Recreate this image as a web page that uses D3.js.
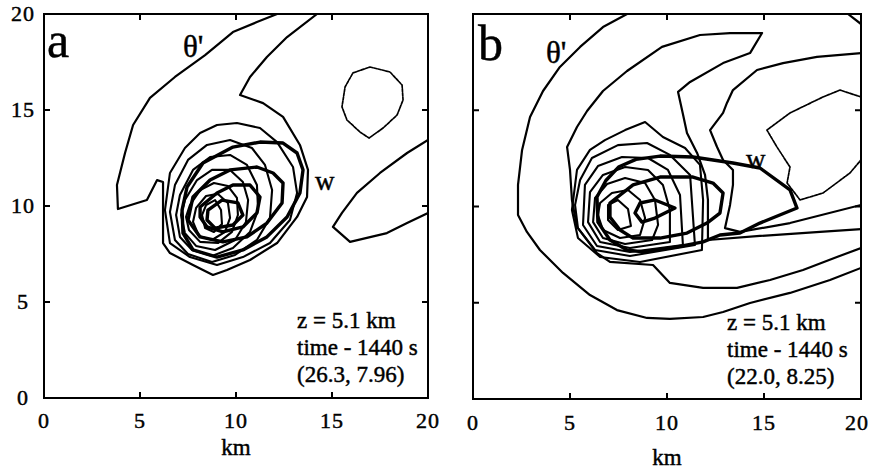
<!DOCTYPE html>
<html lang="en-US">
<head>
  <script src="https://d3js.org/d3.v7.min.js"></script>
  <style>
    body { margin: 0; background: #fff; }
    text { font-family: "Liberation Serif", "Times New Roman", serif; fill: #000; stroke: #000; stroke-width: 0.45px; }
  </style>
</head>
<body>

<svg width="870" height="469"></svg>

<script>
// ---- data (km) ----
var xTicks = [0, 5, 10, 15, 20];
var yTicks = [0, 5, 10, 15, 20];
var innerTicks = [5, 10, 15];

// panel a : theta' contours reaching the frame
var thetaOpenA = [
  [[12.14,20],[11.09,19.58],[9.84,19.06],[8.39,17.86],[6.82,16.72],[5.52,15.63],[4.64,14.22],[4.22,12.76],[3.80,11.09],[3.85,9.84],[5.36,10.31],[5.89,11.35],[6.20,11.25],[6.20,8.07],[6.56,7.55],[7.76,6.93],[8.80,6.41],[9.53,6.67],[10.73,7.19],[12.14,8.07],[13.18,9.43],[13.70,10.47],[13.75,11.88],[13.33,13.18],[12.45,14.64],[11.41,15.36],[10.21,15.78],[10.73,16.72],[11.61,17.76],[12.66,18.80],[14.22,20]],
  [[20,13.44],[18.91,12.76],[17.5,11.72],[16.3,10.68],[15.52,9.64],[15.05,8.91],[15.94,8.13],[17.86,8.59],[18.91,9.11],[20,9.64]]
];
// panel a : closed theta' rings
var thetaRingsA = [
  [[6.56,11.72],[7.34,13.02],[8.13,13.80],[9.01,14.22],[10.05,14.32],[11.25,14.06],[12.14,13.33],[12.97,12.03],[13.18,10.68],[12.81,9.27],[11.77,8.07],[10.36,7.34],[9.01,6.93],[7.60,7.34],[6.56,8.07],[6.30,9.79]],
  [[6.82,11.09],[7.50,12.40],[8.49,13.18],[9.69,13.44],[10.83,13.02],[11.51,12.14],[11.88,10.83],[11.77,9.38],[11.09,8.23],[9.95,7.45],[8.75,7.08],[7.50,7.50],[6.82,8.23],[6.56,9.69]],
  [[7.08,10.57],[7.76,11.88],[8.65,12.55],[9.69,12.66],[10.57,12.14],[11.09,11.09],[11.15,9.79],[10.73,8.65],[9.84,7.81],[8.75,7.40],[7.71,7.71],[7.08,8.39],[6.88,9.53]],
  [[7.34,10.31],[7.97,11.35],[8.75,11.88],[9.69,11.88],[10.36,11.25],[10.63,10.31],[10.52,9.17],[9.95,8.23],[8.91,7.71],[7.92,7.92],[7.34,8.59],[7.14,9.53]],
  [[7.60,10.05],[8.13,10.83],[8.85,11.20],[9.58,11.04],[10.05,10.42],[10.10,9.53],[9.79,8.65],[9.06,8.07],[8.13,8.13],[7.55,8.75],[7.40,9.43]],
  [[7.92,9.90],[8.44,10.52],[9.06,10.63],[9.58,10.16],[9.69,9.38],[9.43,8.65],[8.75,8.23],[8.07,8.44],[7.76,9.17]],
  [[8.44,10.05],[8.91,10.31],[9.22,9.79],[9.27,9.06],[8.85,8.65],[8.39,8.85],[8.23,9.53]]
];
// panel a : w contours (bold)
var wRingsA = [
  [[7.45,10.99],[8.28,12.24],[9.84,13.07],[11.25,13.33],[12.45,13.28],[13.18,12.76],[13.49,11.88],[13.33,10.68],[12.66,9.43],[11.61,8.39],[10.36,7.71],[9.01,7.34],[7.76,7.71],[7.24,8.59],[7.19,9.79]],
  [[7.76,10.47],[8.65,11.35],[9.69,11.88],[11.09,12.03],[11.93,11.72],[12.45,11.20],[12.40,10.16],[11.61,9.11],[10.57,8.39],[9.32,8.13],[8.13,8.39],[7.50,9.27]],
  [[8.13,9.95],[9.01,10.68],[9.84,11.09],[10.73,11.09],[11.25,10.47],[11.09,9.64],[10.36,8.91],[9.32,8.65],[8.49,8.91],[8.13,9.43]],
  [[8.54,9.79],[9.27,10.31],[10.10,10.16],[10.36,9.53],[9.84,9.01],[8.91,8.85],[8.49,9.27]]
];
// panel a : dashed closed contour
var dashA = [
  [[16.98,17.24],[18.02,16.98],[18.65,16.30],[18.70,15.52],[18.39,14.74],[17.66,14.06],[16.93,13.54],[16.46,13.85],[15.78,14.48],[15.52,15.16],[15.68,16.20],[16.09,16.93]]
];

// panel b : theta' contours reaching the frame
var thetaOpenB = [
  [[7.94,20],[6.70,19.32],[5.52,18.29],[4.48,17.25],[3.61,16.0],[2.94,14.65],[2.53,12.94],[2.32,11.12],[2.32,9.56],[2.78,8.68],[3.45,7.74],[4.64,6.55],[6.03,5.40],[7.42,4.62],[8.97,4.21],[10.15,4.16],[11.86,4.26],[12.89,4.52],[14.28,4.99],[16.34,5.51],[18.40,6.18],[20,6.81]],
  [[20,8.83],[17.89,8.68],[14.79,8.47],[12.11,8.26],[12.11,10.34],[11.96,11.64],[11.55,12.78],[11.03,13.82],[10.82,14.81],[10.57,15.95],[11.19,16.47],[12.89,17.45],[14.28,17.97],[14.90,19.01],[13.25,19.01],[11.70,18.91],[9.74,18.29],[7.94,17.04],[6.70,16.0],[5.88,14.96],[5.36,14.13],[4.85,13.09],[5.0,11.90],[5.10,10.34],[5.36,8.94],[6.39,7.58],[7.06,7.12],[9.28,6.96],[10.15,6.03],[11.86,5.77],[13.61,5.77],[15.31,6.18],[17.01,6.70],[18.76,7.38],[20,7.84]],
  [[20,17.97],[17.73,17.77],[15.98,17.45],[14.64,17.09],[13.40,16.05],[13.09,15.38],[12.89,14.86],[12.22,13.97],[12.58,13.09],[12.89,12.42],[13.40,11.90],[13.40,11.12],[13.25,10.08],[12.99,8.88],[13.76,8.68],[16.34,9.14],[20,10.08]],
  [[19.33,20],[20,19.48]]
];
// panel b : closed theta' rings
var thetaRingsB = [
  [[6.96,10.08],[7.47,10.34],[7.99,9.87],[8.14,8.99],[7.47,8.78],[6.96,9.30]],
  [[6.55,10.18],[7.16,10.70],[7.99,10.86],[8.61,10.34],[8.87,9.40],[8.61,8.52],[7.58,8.36],[6.70,8.78],[6.44,9.56]],
  [[6.29,10.44],[6.91,11.17],[7.84,11.48],[8.87,11.22],[9.38,10.34],[9.54,9.04],[9.23,8.26],[7.84,8.05],[6.70,8.36],[6.19,9.19]],
  [[6.03,10.75],[6.70,11.64],[7.84,12.05],[9.02,11.90],[9.79,11.12],[10.15,9.82],[10.15,8.16],[8.09,7.84],[6.55,8.16],[5.93,9.19]],
  [[5.77,11.12],[6.44,12.10],[7.68,12.57],[9.02,12.52],[10.05,11.90],[10.67,10.60],[10.82,8.0],[8.09,7.64],[6.39,7.95],[5.67,9.04]],
  [[5.52,11.38],[6.13,12.52],[7.47,13.19],[8.97,13.30],[10.15,12.68],[11.19,11.64],[11.44,8.0],[8.09,7.43],[6.29,7.74],[5.41,8.88],[5.26,10.08]],
  [[5.36,11.90],[6.03,12.94],[6.80,13.45],[7.84,13.97],[8.87,14.39],[9.79,13.61],[10.93,13.04],[11.70,12.16],[11.86,10.34],[11.80,7.74],[8.61,7.12],[6.55,7.38],[5.41,8.36],[5.10,9.82]]
];
// panel b : w contours (bold)
var wRingsB = [
  [[6.39,10.49],[6.85,11.35],[7.50,12.05],[8.40,12.45],[9.64,12.62],[11.34,12.57],[13.40,12.26],[14.79,12.0],[16.34,10.86],[16.70,9.92],[14.79,9.14],[13.76,8.62],[12.73,8.52],[11.86,8.16],[10.52,7.90],[8.76,7.64],[7.94,7.74],[7.06,8.26],[6.44,9.19]],
  [[7.06,10.18],[8.25,11.12],[9.64,11.53],[11.34,11.53],[12.37,11.22],[12.89,10.70],[12.73,9.66],[12.06,9.14],[11.03,8.62],[9.64,8.36],[8.25,8.36],[7.58,8.78],[7.06,9.45]],
  [[8.61,10.18],[9.38,10.34],[10.41,9.92],[9.38,9.40],[8.71,9.19],[8.35,9.66]]
];
// panel b : dashed contour reaching the frame
var dashB = [
  [[20,15.69],[18.92,16.05],[18.04,15.69],[16.34,14.86],[15.15,13.97],[15.67,13.09],[16.34,12.05],[16.19,11.22],[16.86,10.34],[18.04,10.70],[19.43,11.74],[20,12.42]]
];

var notesA = ["z = 5.1 km", "time - 1440 s", "(26.3, 7.96)"];
var notesB = ["z = 5.1 km", "time - 1440 s", "(22.0, 8.25)"];

// ---- layout ----
var svg = d3.select("svg");
svg.append("rect").attr("width", 870).attr("height", 469).attr("fill", "#fff");

var panels = [
  {id: "a", x0: 44, x1: 428, y0: 398, y1: 14, yLabels: true,
   thetaOpen: thetaOpenA, thetaRings: thetaRingsA, wRings: wRingsA, dashClosed: dashA, dashOpen: [],
   notes: notesA, notesX: 297, notesY: 328, tickY: 428, kmY: 455,
   letterX: 47, letterY: 57, thetaX: 183, thetaY: 57, wX: 315, wY: 190},
  {id: "b", x0: 473, x1: 861, y0: 399, y1: 14, yLabels: false,
   thetaOpen: thetaOpenB, thetaRings: thetaRingsB, wRings: wRingsB, dashClosed: [], dashOpen: dashB,
   notes: notesB, notesX: 727, notesY: 330, tickY: 430, kmY: 465,
   letterX: 478, letterY: 60, thetaX: 546, thetaY: 63, wX: 746, wY: 168}
];

panels.forEach(function(p) {
  var x = d3.scaleLinear().domain([0, 20]).range([p.x0, p.x1]);
  var y = d3.scaleLinear().domain([0, 20]).range([p.y0, p.y1]);
  var line = d3.line().x(function(d) { return x(d[0]); }).y(function(d) { return y(d[1]); });
  var g = svg.append("g");

  g.append("clipPath").attr("id", "clip-" + p.id)
    .append("rect").attr("x", p.x0).attr("y", p.y1)
    .attr("width", p.x1 - p.x0).attr("height", p.y0 - p.y1);

  var plot = g.append("g").attr("clip-path", "url(#clip-" + p.id + ")")
    .attr("fill", "none").attr("stroke", "#000")
    .attr("stroke-linejoin", "round").attr("stroke-linecap", "round");

  plot.selectAll(".topen").data(p.thetaOpen).enter().append("path")
    .attr("d", line).attr("stroke-width", 2.2);
  plot.selectAll(".tring").data(p.thetaRings).enter().append("path")
    .attr("d", function(d) { return line(d) + "Z"; }).attr("stroke-width", 2.1);
  plot.selectAll(".wring").data(p.wRings).enter().append("path")
    .attr("d", function(d) { return line(d) + "Z"; }).attr("stroke-width", 3.4);
  plot.selectAll(".dclosed").data(p.dashClosed).enter().append("path")
    .attr("d", function(d) { return line(d) + "Z"; }).attr("stroke-width", 1.7)
    .attr("stroke-dasharray", "3,1.2");
  plot.selectAll(".dopen").data(p.dashOpen).enter().append("path")
    .attr("d", line).attr("stroke-width", 1.7).attr("stroke-dasharray", "3,1.2");

  // frame and inward ticks
  g.append("rect").attr("x", p.x0).attr("y", p.y1)
    .attr("width", p.x1 - p.x0).attr("height", p.y0 - p.y1)
    .attr("fill", "none").attr("stroke", "#000").attr("stroke-width", 2);

  var t = 6;
  innerTicks.forEach(function(v) {
    [[x(v), y(0), x(v), y(0) - t], [x(v), y(20), x(v), y(20) + t],
     [x(0), y(v), x(0) + t, y(v)], [x(20), y(v), x(20) - t, y(v)]].forEach(function(s) {
      g.append("line").attr("x1", s[0]).attr("y1", s[1]).attr("x2", s[2]).attr("y2", s[3])
        .attr("stroke", "#000").attr("stroke-width", 2);
    });
  });

  // tick labels (last one kept inside the window)
  g.selectAll(".xl").data(xTicks).enter().append("text")
    .attr("x", function(d) { return Math.min(x(d), 869 - 12); }).attr("y", p.tickY)
    .attr("text-anchor", "middle").attr("font-size", 22).attr("letter-spacing", 1)
    .text(function(d) { return d; });
  if (p.yLabels) {
    g.selectAll(".yl").data(yTicks).enter().append("text")
      .attr("x", 23).attr("y", function(d) { return y(d) + 7; })
      .attr("text-anchor", "middle").attr("font-size", 22).attr("letter-spacing", 1)
      .text(function(d) { return d; });
  }
  g.append("text").attr("x", x(10)).attr("y", p.kmY).attr("text-anchor", "middle")
    .attr("font-size", 23).text("km");

  // labels
  g.append("text").attr("x", p.letterX).attr("y", p.letterY).attr("font-size", 50).text(p.id);
  g.append("text").attr("x", p.thetaX).attr("y", p.thetaY).attr("font-size", 31).text("θ'");
  g.append("text").attr("x", p.wX).attr("y", p.wY).attr("font-size", 27).text("w");

  g.selectAll(".note").data(p.notes).enter().append("text")
    .attr("x", p.notesX).attr("y", function(d, i) { return p.notesY + i * 27; })
    .attr("font-size", 23).text(function(d) { return d; });
});
</script>
</body>
</html>
